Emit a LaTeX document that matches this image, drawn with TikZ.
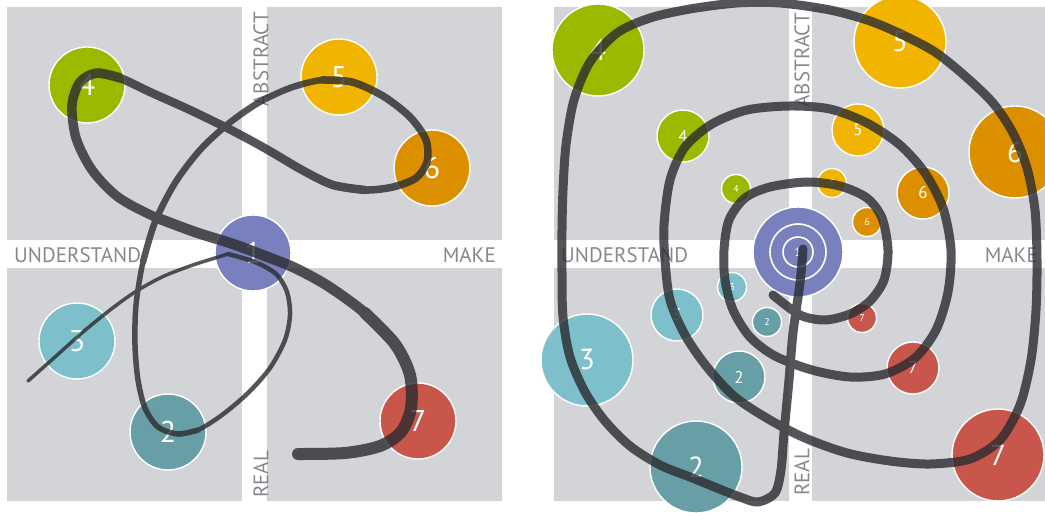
\documentclass[tikz,border=0pt]{standalone}
\usepackage{fontspec}
\setmainfont{PT Sans}

\definecolor{quadgray}{RGB}{211,212,215}
\definecolor{labgray}{RGB}{135,136,140}
\definecolor{cgreen}{RGB}{154,186,0}
\definecolor{cyellow}{RGB}{241,180,0}
\definecolor{corange}{RGB}{220,144,0}
\definecolor{cblue}{RGB}{120,129,190}
\definecolor{cteal}{RGB}{125,191,203}
\definecolor{cdteal}{RGB}{104,158,165}
\definecolor{cred}{RGB}{200,86,74}
\definecolor{trail}{RGB}{42,43,47}

\tikzset{
	quad/.style={fill=quadgray},
	axis/.style={text=labgray, inner sep=0pt, font=\fontsize{21}{21}\selectfont},
	stop/.style={circle, draw=white, line width=1.4pt, text=white, inner sep=0pt},
	plain/.style={stop, minimum size=76pt, font=\fontsize{30}{30}\selectfont},
	big/.style={stop, minimum size=92pt, font=\fontsize{29}{29}\selectfont},
	mid/.style={stop, minimum size=52pt, font=\fontsize{17}{17}\selectfont},
	small/.style={stop, minimum size=29pt, font=\fontsize{10}{10}\selectfont},
	trace/.style={draw=trail, line cap=round, line join=round},
}

\begin{document}
\begin{tikzpicture}[x=1pt, y=-1pt]
	\useasboundingbox (0,0) rectangle (1045,513);
	% quadrants
	\foreach \x/\y in {7/7, 267/7, 7/268, 267/268, 554/7, 812/7, 554/268, 812/268}
		\fill[quad] (\x,\y) rectangle ++(235,233);
	% axis labels
	\node[axis, anchor=west] (lund) at (14,255) {UNDERSTAND};
	\node[axis, anchor=east] (lmak) at (496,255) {MAKE};
	\node[axis, anchor=east, rotate=90] (labs) at (261,12) {ABSTRACT};
	\node[axis, anchor=west, rotate=90] (lrea) at (261,498) {REAL};
	\node[axis, anchor=west] (rund) at (561,255) {UNDERSTAND};
	\node[axis, anchor=east] (rmak) at (1038,255) {MAKE};
	\node[axis, anchor=east, rotate=90] (rabs) at (802,13) {ABSTRACT};
	\node[axis, anchor=west, rotate=90] (rrea) at (802,496) {REAL};
	% left: one journey
	\node[plain, fill=cblue] (l1) at (253,253) {1};
	\node[plain, fill=cdteal] (l2) at (168,432) {2};
	\node[plain, fill=cteal] (l3) at (77,341) {3};
	\node[plain, fill=cgreen] (l4) at (87,85) {4};
	\node[plain, fill=cyellow] (l5) at (339,77) {5};
	\node[plain, fill=corange] (l6) at (432,168) {6};
	\node[plain, fill=cred] (l7) at (418,421) {7};
	% right: spiral of rounds
	\node[big, minimum size=90pt, fill=cblue, font=\fontsize{12}{12}\selectfont] (r1) at (798,252) {1};
	\draw[white, line width=1.6pt] (r1) circle (28) (r1) circle (15);
	\node[big, fill=cdteal] (rb2) at (696,467) {2};
	\node[big, fill=cteal] (rb3) at (587,360) {3};
	\node[big, fill=cgreen] (rb4) at (598,50) {4};
	\node[big, fill=cyellow] (rb5) at (900,42) {5};
	\node[big, fill=corange] (rb6) at (1015,152) {6};
	\node[big, fill=cred] (rb7) at (998,455) {7};
	\node[mid, fill=cdteal] (rm2) at (739,377) {2};
	\node[mid, fill=cteal] (rm3) at (677,315) {3};
	\node[mid, fill=cgreen] (rm4) at (683,136) {4};
	\node[mid, fill=cyellow] (rm5) at (858,130) {5};
	\node[mid, fill=corange] (rm6) at (923,193) {6};
	\node[mid, fill=cred] (rm7) at (913,368) {7};
	\node[small, fill=cdteal] (rs2) at (767,322) {2};
	\node[small, fill=cteal] (rs3) at (732,287) {3};
	\node[small, fill=cgreen] (rs4) at (736,189) {4};
	\node[small, fill=cyellow] (rs5) at (832,183) {5};
	\node[small, fill=corange] (rs6) at (867,222) {6};
	\node[small, fill=cred] (rs7) at (862,318) {7};
	% the paths
	\begin{scope}[transparency group, opacity=0.8]
		\draw[trace, line width=3.5pt] plot[smooth] coordinates {(28,381) (55,357) (83,332) (110,310) (135,292) (162,277) (190,266) (215,258) (228,254)};
		\draw[trace, line width=4.5pt] plot[smooth] coordinates {(228,254) (255,262) (276,274) (287,292) (290,315) (285,340) (270,368) (248,393) (222,415) (198,430) (178,434)};
		\draw[trace, line width=5.5pt] plot[smooth] coordinates {(198,430) (178,434) (158,427) (145,408) (138,380) (135,345) (136,305) (143,262) (155,222)};
		\draw[trace, line width=6.5pt] plot[smooth] coordinates {(143,262) (155,222) (175,183) (200,150) (228,124) (258,103) (290,88) (322,80) (352,82)};
		\draw[trace, line width=7.5pt] plot[smooth] coordinates {(322,80) (352,82) (383,96) (410,117) (426,140) (427,162) (416,178) (393,187) (365,190) (333,185)};
		\draw[trace, line width=8.5pt] plot[smooth] coordinates {(365,190) (333,185) (302,170) (268,150) (233,131) (190,110) (150,92) (120,78) (97,73)};
		\draw[trace, line width=9.5pt] plot[smooth] coordinates {(120,78) (97,73) (80,82) (72,105) (76,138) (92,170) (118,197) (155,217) (195,232)};
		\draw[trace, line width=10.5pt] plot[smooth] coordinates {(155,217) (195,232) (233,244) (265,256) (295,268) (328,286) (365,313) (395,344)};
		\draw[trace, line width=12pt] plot[smooth] coordinates {(365,313) (395,344) (410,375) (411,408) (401,432) (380,446) (345,453) (298,454)};
		\draw[trace, line width=9pt] plot[smooth] coordinates {(803,249) (800,283) (793,333) (789,380) (784,433) (781,470) (775,493) (758,502) (740,497)
			(717,488) (690,477) (660,465) (630,446) (605,421) (585,392) (570,357) (563,317) (562,273) (562,230) (563,190) (566,145) (574,100) (590,62)
			(617,33) (650,18) (690,9) (737,3) (780,3) (830,10) (870,21) (903,35) (935,52) (965,76) (993,103) (1013,133) (1027,168)
			(1035,210) (1037,260) (1036,310) (1031,360) (1020,405) (1000,440) (970,459) (930,464) (890,461) (847,453) (805,438)
			(770,420) (735,397) (707,367) (685,335) (670,300) (665,260) (664,225) (670,180) (685,147) (712,124) (747,110) (790,106)
			(830,109) (867,123) (900,145) (925,173) (943,208) (951,250) (948,292) (936,330) (915,358) (885,374) (850,377) (812,370)
			(775,356) (750,337) (733,310) (725,280) (724,250) (729,220) (745,198) (770,187) (807,182) (840,186) (867,198) (882,218)
			(888,250) (884,280) (870,301) (850,314) (825,320) (800,315) (773,295)};
	\end{scope}
\end{tikzpicture}
\end{document}
